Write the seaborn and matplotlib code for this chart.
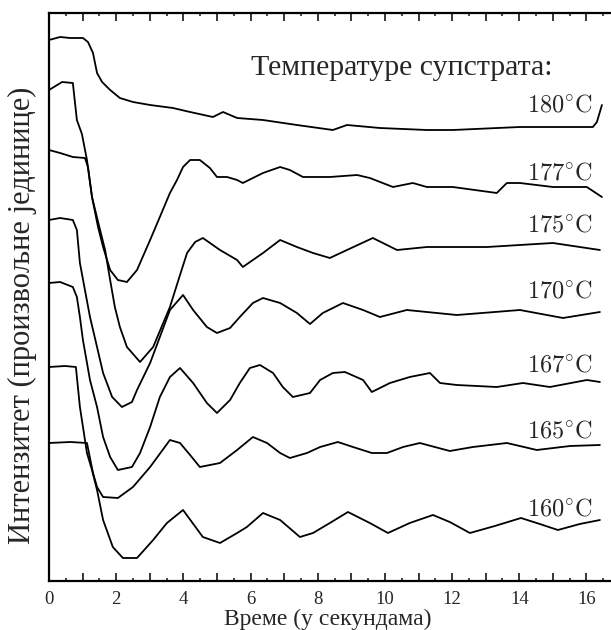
import matplotlib
matplotlib.use('Agg')
import matplotlib.pyplot as plt
import seaborn as sns
from matplotlib.ticker import MultipleLocator

# time (s) and intensity (arb. units), one pair per curve
t_180 = [0.0, 0.33, 0.63, 1.01, 1.16, 1.31, 1.43, 1.58, 1.82, 2.11, 2.50, 3.01, 3.69, 4.20, 4.88,
         5.18, 5.60, 6.37, 7.38, 8.45, 8.87, 9.85, 11.25, 12.02, 14.02, 15.0, 16.19, 16.31, 16.46]
i_180 = [541, 544, 543, 543, 539, 528, 508, 499, 491, 483, 479, 476, 473, 469, 464,
         469, 463, 461, 456, 451, 456, 453, 451, 451, 454, 454, 454, 459, 476]

t_177 = [0.0, 0.39, 0.71, 0.83, 0.98, 1.13, 1.28, 1.46, 1.61, 1.82, 2.05, 2.32, 2.62, 3.01, 3.30,
         3.60, 3.81, 3.99, 4.20, 4.49, 4.79, 5.00, 5.30, 5.60, 5.77, 6.37, 6.88, 7.17, 7.56, 8.36,
         9.17, 9.55, 10.24, 10.83, 11.25, 12.02, 13.33, 13.63, 14.02, 15.0, 16.01, 16.46]
i_177 = [491, 499, 498, 461, 447, 421, 384, 354, 334, 311, 301, 299, 311, 341, 364,
         388, 401, 414, 421, 421, 413, 404, 404, 401, 398, 408, 414, 411, 404, 404,
         406, 403, 394, 398, 394, 394, 388, 398, 398, 394, 394, 384]

t_175 = [0.0, 0.33, 0.71, 1.07, 1.16, 1.28, 1.52, 1.67, 1.82, 1.96, 2.11, 2.32, 2.71, 3.10, 3.60,
         3.90, 4.11, 4.35, 4.58, 5.09, 5.60, 5.77, 6.37, 6.88, 7.38, 7.86, 8.36, 8.87, 9.64, 10.36,
         11.25, 13.04, 15.0, 16.40]
i_175 = [431, 428, 424, 423, 414, 384, 351, 331, 301, 274, 254, 234, 219, 234, 274,
         306, 328, 339, 343, 331, 321, 314, 328, 341, 334, 328, 323, 331, 343, 331,
         334, 334, 338, 331]

t_170 = [0.0, 0.33, 0.71, 0.83, 0.92, 1.07, 1.22, 1.43, 1.61, 1.88, 2.17, 2.47, 2.62, 3.01, 3.30,
         3.60, 3.99, 4.29, 4.70, 5.00, 5.39, 5.68, 6.07, 6.37, 6.88, 7.38, 7.77, 8.15, 8.75, 9.35,
         9.85, 10.65, 12.14, 14.02, 15.30, 16.40]
i_170 = [361, 363, 361, 351, 318, 291, 264, 234, 208, 184, 174, 179, 191, 218, 244,
         271, 286, 271, 254, 248, 253, 264, 278, 283, 278, 268, 257, 268, 278, 271,
         264, 271, 266, 271, 263, 269]

t_167 = [0.0, 0.33, 0.71, 0.83, 0.92, 1.01, 1.22, 1.43, 1.61, 1.82, 2.05, 2.47, 2.71, 3.01, 3.30,
         3.60, 3.90, 4.29, 4.70, 5.00, 5.39, 5.68, 5.98, 6.28, 6.67, 6.96, 7.26, 7.77, 8.07, 8.45,
         8.81, 9.35, 9.61, 10.15, 10.74, 11.34, 11.64, 12.14, 13.33, 14.11, 14.91, 16.01, 16.40]
i_167 = [298, 299, 294, 284, 264, 241, 201, 174, 144, 124, 111, 114, 128, 154, 184,
         204, 213, 198, 178, 168, 181, 198, 213, 216, 208, 194, 184, 188, 201, 208,
         209, 201, 189, 198, 204, 208, 198, 196, 194, 198, 194, 201, 199]

t_165 = [0.0, 0.63, 1.13, 1.31, 1.43, 1.61, 2.05, 2.50, 3.01, 3.60, 3.90, 4.20, 4.49, 5.09, 5.60,
         6.07, 6.49, 6.88, 7.17, 7.68, 8.07, 8.60, 9.05, 9.61, 10.06, 10.54, 11.04, 11.93, 12.62, 13.63,
         14.52, 15.51, 16.40]
i_165 = [138, 139, 138, 108, 94, 84, 83, 94, 114, 141, 138, 126, 114, 118, 131,
         144, 138, 128, 123, 128, 134, 139, 134, 128, 128, 134, 138, 130, 134, 138,
         131, 135, 136]

t_160 = [0.0, 0.48, 0.80, 0.92, 1.13, 1.28, 1.43, 1.61, 1.90, 2.20, 2.62, 3.10, 3.51, 3.99, 4.58,
         5.09, 5.60, 5.89, 6.37, 6.88, 7.47, 7.86, 8.36, 8.90, 9.55, 10.09, 10.74, 11.43, 11.93, 12.53,
         13.27, 14.05, 14.61, 15.15, 15.80, 16.40]
i_160 = [214, 215, 214, 174, 128, 111, 91, 61, 34, 23, 23, 41, 58, 71, 44,
         38, 48, 54, 68, 61, 44, 48, 58, 69, 58, 48, 58, 66, 59, 48,
         55, 63, 57, 51, 57, 61]

curve_labels = ['180', '177', '175', '170', '167', '165', '160']
label_y = [470, 401, 349, 284, 209, 144, 66]
x_ticks = list(range(0, 17))
x_tick_labels = [str(v) if v % 2 == 0 else '' for v in x_ticks]

sns.set_style('white')
plt.rcParams['font.family'] = ['Liberation Serif', 'DejaVu Serif']
plt.rcParams['mathtext.fontset'] = 'cm'

fig = plt.figure(figsize=(6.11, 6.30), dpi=100)
ax = fig.add_axes([49 / 611, 49 / 630, 562 / 611, 568 / 630])

curves = [(t_180, i_180), (t_177, i_177), (t_175, i_175), (t_170, i_170),
          (t_167, i_167), (t_165, i_165), (t_160, i_160)]
for t, i in curves:
    sns.lineplot(x=t, y=i, ax=ax, color='black', linewidth=1.3, sort=False, estimator=None)

for name, y in zip(curve_labels, label_y):
    ax.text(16.2, y, r'$%s^{\circ}\mathrm{C}$' % name, ha='right', va='baseline', fontsize=17.5)

ax.text(6.0, 506, 'Температуре супстрата:', ha='left', va='baseline', fontsize=21.5)

ax.set_xlim(0, 16.73)
ax.set_ylim(0, 568)
ax.set_xticks(x_ticks)
ax.set_xticklabels(x_tick_labels)
ax.xaxis.set_minor_locator(MultipleLocator(0.5))
ax.set_yticks([])
ax.tick_params(axis='x', which='major', direction='in', length=6, width=1.3,
               top=True, bottom=True, labelsize=13.5, pad=7)
ax.tick_params(axis='x', which='minor', direction='in', length=2.5, width=1.2,
               top=True, bottom=True)

for side in ['left', 'bottom', 'top']:
    ax.spines[side].set_linewidth(1.6)
    ax.spines[side].set_color('black')
ax.spines['right'].set_visible(False)

ax.set_xlabel('Време (у секундама)', fontsize=17)
ax.xaxis.set_label_coords(0.496, -0.049)
ax.set_ylabel('Интензитет (произвољне јединице)', fontsize=22)
ax.yaxis.set_label_coords(-0.022, 0.467)

plt.savefig('out.png', dpi=100)
plt.close()
